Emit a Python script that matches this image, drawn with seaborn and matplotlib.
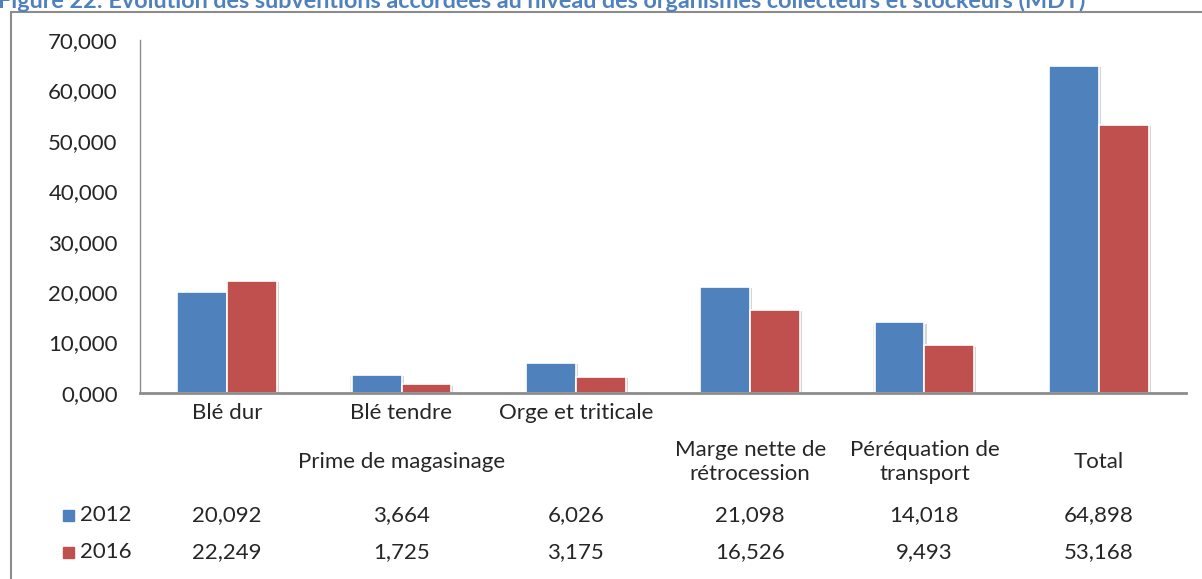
import matplotlib
matplotlib.use("Agg")
import matplotlib.pyplot as plt
import matplotlib.patheffects as pe
from matplotlib.patches import Rectangle
from matplotlib.transforms import blended_transform_factory
import seaborn as sns
import pandas as pd

# Data (MDT, decimal comma in the labels)
categories = ["Blé dur", "Blé tendre", "Orge et triticale",
              "Marge nette de rétrocession", "Péréquation de transport", "Total"]
products = ["Blé dur", "Blé tendre", "Orge et triticale", "", "", ""]
group_labels = ["Prime de magasinage", "Marge nette de\nrétrocession",
                "Péréquation de\ntransport", "Total"]
group_spans = [(0, 2), (3, 3), (4, 4), (5, 5)]
years = ["2012", "2016"]
values_2012 = [20.092, 3.664, 6.026, 21.098, 14.018, 64.898]
values_2016 = [22.249, 1.725, 3.175, 16.526, 9.493, 53.168]
y_ticks = [0, 10, 20, 30, 40, 50, 60, 70]
colors = ["#4F81BD", "#C0504D"]

title = ("Figure 22: Évolution des subventions accordées au niveau des "
         "organismes collecteurs et stockeurs (MDT)")

W, H = 1202, 579
FS = 16


def fy(px):
    return 1 - px / H


def fmt(v):
    return f"{v:,.3f}".replace(".", ",")


sns.set_theme(style="white")
plt.rcParams["font.family"] = ["Lato", "DejaVu Sans"]

df = pd.DataFrame({
    "categorie": categories * 2,
    "annee": [years[0]] * len(categories) + [years[1]] * len(categories),
    "valeur": values_2012 + values_2016,
})

fig = plt.figure(figsize=(W / 100, H / 100), dpi=100)
ax = fig.add_axes([140 / W, fy(393), (1186 - 140) / W, (393 - 40) / H])

sns.barplot(data=df, x="categorie", y="valeur", hue="annee",
            palette=colors, saturation=1, width=0.57, edgecolor="white",
            linewidth=1.2, legend=False, ax=ax)

# soft drop shadow like the Office style
for p in ax.patches:
    p.set_path_effects([
        pe.SimplePatchShadow(offset=(1.5, -1.0), shadow_rgbFace="#777777", alpha=0.3),
        pe.SimplePatchShadow(offset=(-1.0, -1.0), shadow_rgbFace="#999999", alpha=0.15),
        pe.Normal(),
    ])

ax.set_xlim(-0.5, len(categories) - 0.5)
ax.set_ylim(0, 70)
ax.set_yticks(y_ticks)
ax.set_yticklabels([fmt(v) for v in y_ticks], fontsize=FS)
ax.set_xticks([])
ax.set_xlabel("")
ax.set_ylabel("")
ax.tick_params(axis="y", length=0, pad=16)
for s in ["top", "right"]:
    ax.spines[s].set_visible(False)
ax.spines["left"].set_color("#8c8c8c")
ax.spines["left"].set_linewidth(1.0)
ax.spines["bottom"].set_color("#8c8c8c")
ax.spines["bottom"].set_linewidth(2.0)

# data table below the axis
tr = blended_transform_factory(ax.transData, fig.transFigure)
for i, lab in enumerate(products):
    ax.text(i, fy(413), lab, transform=tr, ha="center", va="center", fontsize=FS)
for lab, (a, b) in zip(group_labels, group_spans):
    ax.text((a + b) / 2, fy(462), lab, transform=tr, ha="center", va="center",
            fontsize=FS, linespacing=1.2)

for yr, vals, col, ypx in zip(years, [values_2012, values_2016], colors, [515, 552]):
    fig.patches.append(Rectangle((63 / W, fy(ypx) - 5.5 / H), 11 / W, 11 / H,
                                 transform=fig.transFigure, color=col))
    fig.text(80 / W, fy(ypx), yr, ha="left", va="center", fontsize=FS)
    for i, v in enumerate(vals):
        ax.text(i, fy(ypx), fmt(v), transform=tr, ha="center", va="center", fontsize=FS)

# outer frame and truncated caption
fig.patches.append(Rectangle((11 / W, -0.1), 1.2, fy(12) + 0.1, transform=fig.transFigure,
                             fill=False, edgecolor="#8c8c8c", linewidth=1.5))
fig.text(-2 / W, fy(8), title, ha="left", va="baseline", color="#4F81BD",
         fontweight="bold", fontsize=16.8)

fig.savefig("out.png", dpi=100)
